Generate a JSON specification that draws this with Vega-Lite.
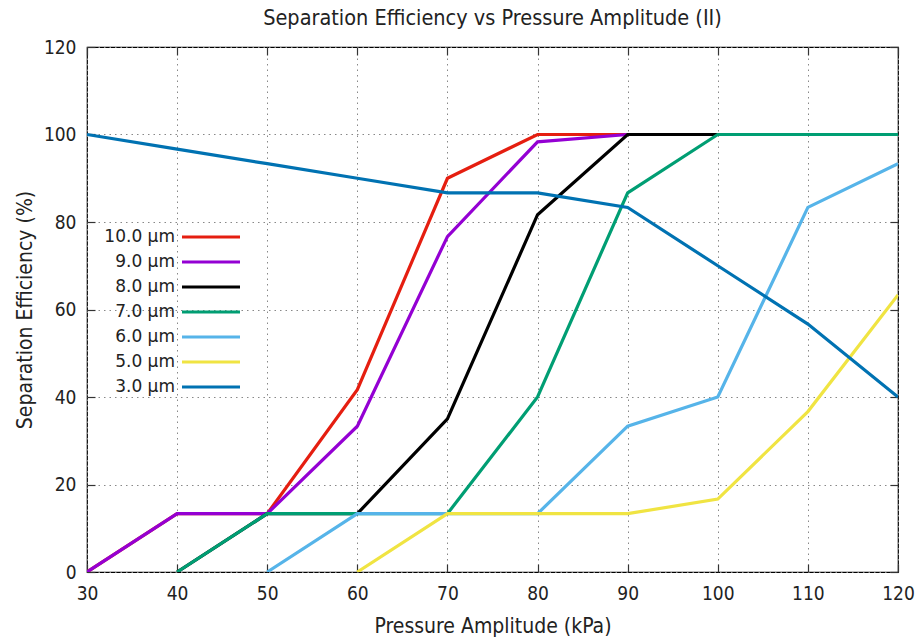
{
  "$schema": "https://vega.github.io/schema/vega-lite/v6.json",
  "width": 811,
  "height": 525,
  "autosize": {"type": "none"},
  "padding": {"left": 87, "top": 47, "right": 20, "bottom": 66},
  "background": "white",
  "title": {
    "text": "Separation Efficiency vs Pressure Amplitude (II)",
    "font": "DejaVu Sans Condensed",
    "fontSize": 21.5,
    "fontWeight": "normal",
    "color": "#222",
    "offset": 9
  },
  "config": {
    "view": {"stroke": "black", "strokeWidth": 1.2},
    "axis": {
      "labelFont": "DejaVu Sans Condensed",
      "labelFontSize": 19,
      "labelColor": "#222",
      "labelFlush": false,
      "titleFont": "DejaVu Sans Condensed",
      "titleFontSize": 21,
      "titleFontWeight": "normal",
      "titleColor": "#222",
      "grid": true,
      "gridColor": "#888",
      "gridDash": [1.5, 4],
      "gridWidth": 1,
      "domain": false,
      "tickColor": "#333",
      "tickWidth": 1.2
    }
  },
  "data": {
    "values": [
      {"size": "10.0 µm", "p": 30, "e": 0}, {"size": "10.0 µm", "p": 40, "e": 13.33}, {"size": "10.0 µm", "p": 50, "e": 13.33}, {"size": "10.0 µm", "p": 60, "e": 41.67}, {"size": "10.0 µm", "p": 70, "e": 90}, {"size": "10.0 µm", "p": 80, "e": 100}, {"size": "10.0 µm", "p": 90, "e": 100}, {"size": "10.0 µm", "p": 100, "e": 100}, {"size": "10.0 µm", "p": 110, "e": 100}, {"size": "10.0 µm", "p": 120, "e": 100},
      {"size": "9.0 µm", "p": 30, "e": 0}, {"size": "9.0 µm", "p": 40, "e": 13.33}, {"size": "9.0 µm", "p": 50, "e": 13.33}, {"size": "9.0 µm", "p": 60, "e": 33.33}, {"size": "9.0 µm", "p": 70, "e": 76.67}, {"size": "9.0 µm", "p": 80, "e": 98.33}, {"size": "9.0 µm", "p": 90, "e": 100}, {"size": "9.0 µm", "p": 100, "e": 100}, {"size": "9.0 µm", "p": 110, "e": 100}, {"size": "9.0 µm", "p": 120, "e": 100},
      {"size": "8.0 µm", "p": 40, "e": 0}, {"size": "8.0 µm", "p": 50, "e": 13.33}, {"size": "8.0 µm", "p": 60, "e": 13.33}, {"size": "8.0 µm", "p": 70, "e": 35}, {"size": "8.0 µm", "p": 80, "e": 81.67}, {"size": "8.0 µm", "p": 90, "e": 100}, {"size": "8.0 µm", "p": 100, "e": 100}, {"size": "8.0 µm", "p": 110, "e": 100}, {"size": "8.0 µm", "p": 120, "e": 100},
      {"size": "7.0 µm", "p": 40, "e": 0}, {"size": "7.0 µm", "p": 50, "e": 13.33}, {"size": "7.0 µm", "p": 60, "e": 13.33}, {"size": "7.0 µm", "p": 70, "e": 13.33}, {"size": "7.0 µm", "p": 80, "e": 40}, {"size": "7.0 µm", "p": 90, "e": 86.67}, {"size": "7.0 µm", "p": 100, "e": 100}, {"size": "7.0 µm", "p": 110, "e": 100}, {"size": "7.0 µm", "p": 120, "e": 100},
      {"size": "6.0 µm", "p": 50, "e": 0}, {"size": "6.0 µm", "p": 60, "e": 13.33}, {"size": "6.0 µm", "p": 70, "e": 13.33}, {"size": "6.0 µm", "p": 80, "e": 13.33}, {"size": "6.0 µm", "p": 90, "e": 33.33}, {"size": "6.0 µm", "p": 100, "e": 40}, {"size": "6.0 µm", "p": 110, "e": 83.33}, {"size": "6.0 µm", "p": 120, "e": 93.33},
      {"size": "5.0 µm", "p": 60, "e": 0}, {"size": "5.0 µm", "p": 70, "e": 13.33}, {"size": "5.0 µm", "p": 80, "e": 13.33}, {"size": "5.0 µm", "p": 90, "e": 13.33}, {"size": "5.0 µm", "p": 100, "e": 16.67}, {"size": "5.0 µm", "p": 110, "e": 36.67}, {"size": "5.0 µm", "p": 120, "e": 63.33},
      {"size": "3.0 µm", "p": 30, "e": 100}, {"size": "3.0 µm", "p": 40, "e": 96.67}, {"size": "3.0 µm", "p": 50, "e": 93.33}, {"size": "3.0 µm", "p": 60, "e": 90}, {"size": "3.0 µm", "p": 70, "e": 86.67}, {"size": "3.0 µm", "p": 80, "e": 86.67}, {"size": "3.0 µm", "p": 90, "e": 83.33}, {"size": "3.0 µm", "p": 100, "e": 70}, {"size": "3.0 µm", "p": 110, "e": 56.67}, {"size": "3.0 µm", "p": 120, "e": 40}
    ]
  },
  "layer": [
    {
      "mark": {"type": "line", "strokeWidth": 3.2, "clip": true},
      "encoding": {
        "x": {
          "field": "p", "type": "quantitative",
          "scale": {"domain": [30, 120], "nice": false, "zero": false},
          "axis": {"title": "Pressure Amplitude (kPa)", "values": [30,40,50,60,70,80,90,100,110,120], "tickSize": -8, "labelPadding": 20, "titlePadding": 12}
        },
        "y": {
          "field": "e", "type": "quantitative",
          "scale": {"domain": [0, 120], "nice": false},
          "axis": {"title": "Separation Efficiency (%)", "values": [0,20,40,60,80,100,120], "tickSize": -8, "labelPadding": 19, "titlePadding": 8}
        },
        "color": {
          "field": "size", "type": "nominal",
          "scale": {
            "domain": ["10.0 µm", "9.0 µm", "8.0 µm", "7.0 µm", "6.0 µm", "5.0 µm", "3.0 µm"],
            "range": ["#e51e10", "#9400d3", "#000000", "#009e73", "#56b4e9", "#f0e442", "#0072b2"]
          },
          "legend": {
            "title": null,
            "orient": "none",
            "legendX": 112,
            "legendY": 178,
            "padding": 0,
            "symbolType": "M-2.9,0H2.9",
            "symbolSize": 400,
            "symbolStrokeWidth": 3.2,
            "labelFont": "DejaVu Sans",
            "labelFontSize": 17,
            "labelColor": "#222",
            "labelAlign": "right",
            "labelOffset": -48,
            "rowPadding": 5
          }
        }
      }
    },
    {
      "mark": {"type": "line", "opacity": 0},
      "encoding": {
        "x": {"field": "p", "type": "quantitative", "axis": {"orient": "top", "labels": false, "title": null, "grid": false, "values": [30,40,50,60,70,80,90,100,110,120], "tickSize": -8}},
        "y": {"field": "e", "type": "quantitative", "axis": {"orient": "right", "labels": false, "title": null, "grid": false, "values": [0,20,40,60,80,100,120], "tickSize": -8}},
        "detail": {"field": "size"}
      }
    }
  ],
  "resolve": {"axis": {"x": "independent", "y": "independent"}}
}
